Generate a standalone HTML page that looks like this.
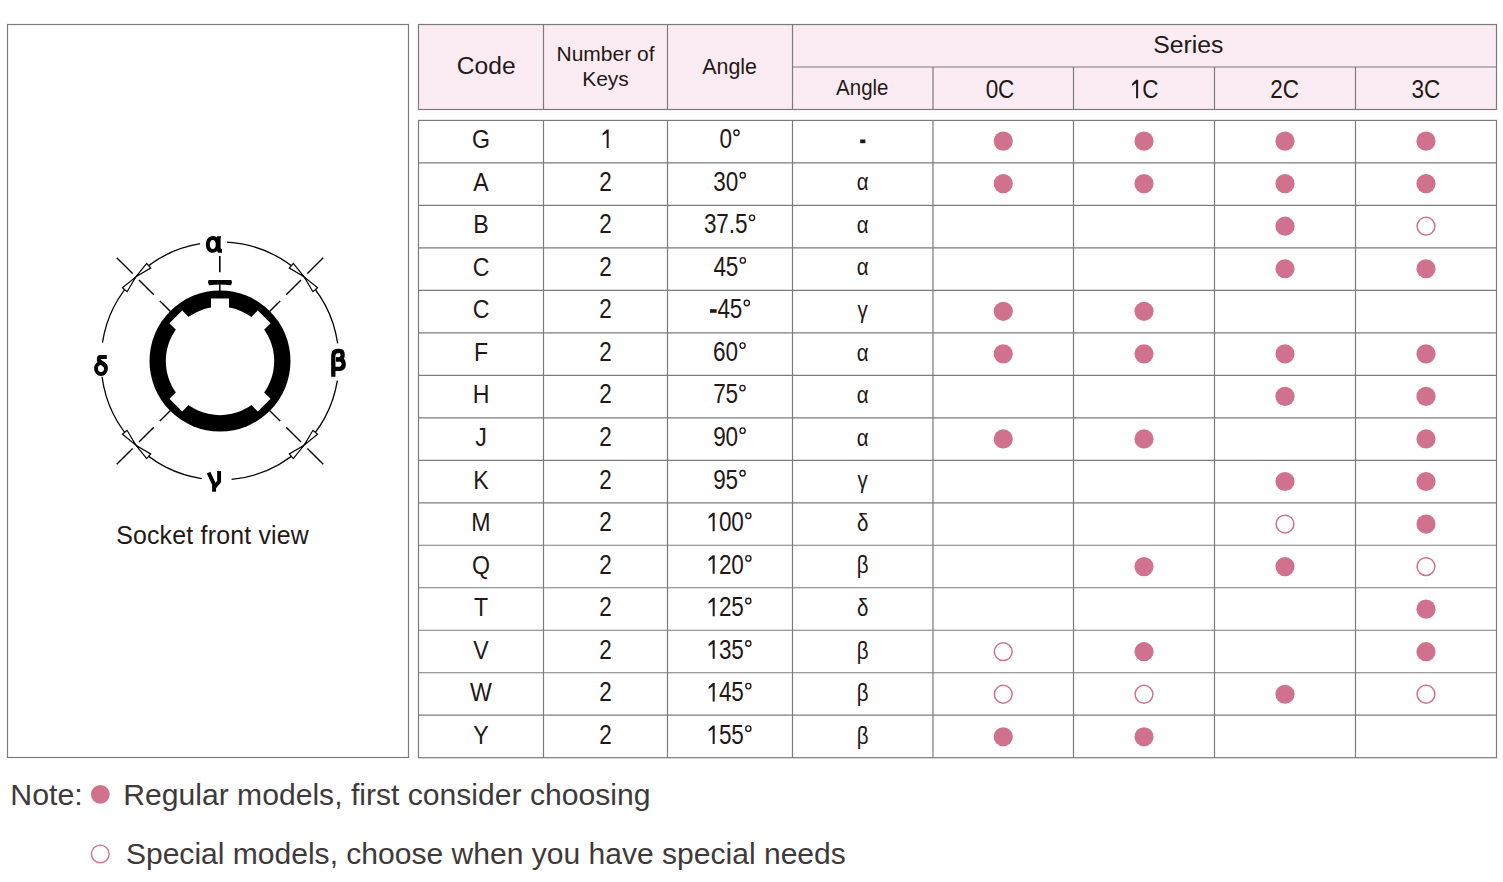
<!DOCTYPE html>
<html><head><meta charset="utf-8"><style>
html,body{margin:0;padding:0;background:#fff;width:1503px;height:882px;overflow:hidden}
svg{position:absolute;left:0;top:0;display:block}
text{font-family:"Liberation Sans",sans-serif}
</style></head><body>
<svg width="1503" height="882" viewBox="0 0 1503 882">
<rect x="7.5" y="24.5" width="401" height="733" fill="none" stroke="#7b7b7b" stroke-width="1.2"/>
<rect x="418.5" y="24.5" width="1078.0" height="85.0" fill="#fbebf2" stroke="#7b7b7b" stroke-width="1.2"/>
<line x1="543.5" y1="24.5" x2="543.5" y2="109.5" stroke="#7b7b7b" stroke-width="1.2"/>
<line x1="667.5" y1="24.5" x2="667.5" y2="109.5" stroke="#7b7b7b" stroke-width="1.2"/>
<line x1="792.5" y1="24.5" x2="792.5" y2="109.5" stroke="#7b7b7b" stroke-width="1.2"/>
<line x1="933" y1="67" x2="933" y2="109.5" stroke="#7b7b7b" stroke-width="1.2"/>
<line x1="1073.5" y1="67" x2="1073.5" y2="109.5" stroke="#7b7b7b" stroke-width="1.2"/>
<line x1="1214.5" y1="67" x2="1214.5" y2="109.5" stroke="#7b7b7b" stroke-width="1.2"/>
<line x1="1355.5" y1="67" x2="1355.5" y2="109.5" stroke="#7b7b7b" stroke-width="1.2"/>
<line x1="792.5" y1="67" x2="1496.5" y2="67" stroke="#7b7b7b" stroke-width="1.2"/>
<rect x="418.5" y="120.4" width="1078.0" height="637.3000000000001" fill="#fff" stroke="#7b7b7b" stroke-width="1.2"/>
<line x1="543.5" y1="120.4" x2="543.5" y2="757.7" stroke="#7b7b7b" stroke-width="1.2"/>
<line x1="667.5" y1="120.4" x2="667.5" y2="757.7" stroke="#7b7b7b" stroke-width="1.2"/>
<line x1="792.5" y1="120.4" x2="792.5" y2="757.7" stroke="#7b7b7b" stroke-width="1.2"/>
<line x1="933" y1="120.4" x2="933" y2="757.7" stroke="#7b7b7b" stroke-width="1.2"/>
<line x1="1073.5" y1="120.4" x2="1073.5" y2="757.7" stroke="#7b7b7b" stroke-width="1.2"/>
<line x1="1214.5" y1="120.4" x2="1214.5" y2="757.7" stroke="#7b7b7b" stroke-width="1.2"/>
<line x1="1355.5" y1="120.4" x2="1355.5" y2="757.7" stroke="#7b7b7b" stroke-width="1.2"/>
<line x1="418.5" y1="162.89" x2="1496.5" y2="162.89" stroke="#7b7b7b" stroke-width="1.2"/>
<line x1="418.5" y1="205.37" x2="1496.5" y2="205.37" stroke="#7b7b7b" stroke-width="1.2"/>
<line x1="418.5" y1="247.86" x2="1496.5" y2="247.86" stroke="#7b7b7b" stroke-width="1.2"/>
<line x1="418.5" y1="290.35" x2="1496.5" y2="290.35" stroke="#7b7b7b" stroke-width="1.2"/>
<line x1="418.5" y1="332.83" x2="1496.5" y2="332.83" stroke="#7b7b7b" stroke-width="1.2"/>
<line x1="418.5" y1="375.32" x2="1496.5" y2="375.32" stroke="#7b7b7b" stroke-width="1.2"/>
<line x1="418.5" y1="417.81" x2="1496.5" y2="417.81" stroke="#7b7b7b" stroke-width="1.2"/>
<line x1="418.5" y1="460.29" x2="1496.5" y2="460.29" stroke="#7b7b7b" stroke-width="1.2"/>
<line x1="418.5" y1="502.78" x2="1496.5" y2="502.78" stroke="#7b7b7b" stroke-width="1.2"/>
<line x1="418.5" y1="545.27" x2="1496.5" y2="545.27" stroke="#7b7b7b" stroke-width="1.2"/>
<line x1="418.5" y1="587.75" x2="1496.5" y2="587.75" stroke="#7b7b7b" stroke-width="1.2"/>
<line x1="418.5" y1="630.24" x2="1496.5" y2="630.24" stroke="#7b7b7b" stroke-width="1.2"/>
<line x1="418.5" y1="672.73" x2="1496.5" y2="672.73" stroke="#7b7b7b" stroke-width="1.2"/>
<line x1="418.5" y1="715.21" x2="1496.5" y2="715.21" stroke="#7b7b7b" stroke-width="1.2"/>
<circle cx="1003.25" cy="141.10" r="9.6" fill="#d0718d"/>
<circle cx="1144.00" cy="141.10" r="9.6" fill="#d0718d"/>
<circle cx="1285.00" cy="141.10" r="9.6" fill="#d0718d"/>
<circle cx="1426.00" cy="141.10" r="9.6" fill="#d0718d"/>
<circle cx="1003.25" cy="183.65" r="9.6" fill="#d0718d"/>
<circle cx="1144.00" cy="183.65" r="9.6" fill="#d0718d"/>
<circle cx="1285.00" cy="183.65" r="9.6" fill="#d0718d"/>
<circle cx="1426.00" cy="183.65" r="9.6" fill="#d0718d"/>
<circle cx="1285.00" cy="226.20" r="9.6" fill="#d0718d"/>
<circle cx="1426.00" cy="226.20" r="8.9" fill="none" stroke="#d0718d" stroke-width="1.5"/>
<circle cx="1285.00" cy="268.75" r="9.6" fill="#d0718d"/>
<circle cx="1426.00" cy="268.75" r="9.6" fill="#d0718d"/>
<circle cx="1003.25" cy="311.30" r="9.6" fill="#d0718d"/>
<circle cx="1144.00" cy="311.30" r="9.6" fill="#d0718d"/>
<circle cx="1003.25" cy="353.85" r="9.6" fill="#d0718d"/>
<circle cx="1144.00" cy="353.85" r="9.6" fill="#d0718d"/>
<circle cx="1285.00" cy="353.85" r="9.6" fill="#d0718d"/>
<circle cx="1426.00" cy="353.85" r="9.6" fill="#d0718d"/>
<circle cx="1285.00" cy="396.40" r="9.6" fill="#d0718d"/>
<circle cx="1426.00" cy="396.40" r="9.6" fill="#d0718d"/>
<circle cx="1003.25" cy="438.95" r="9.6" fill="#d0718d"/>
<circle cx="1144.00" cy="438.95" r="9.6" fill="#d0718d"/>
<circle cx="1426.00" cy="438.95" r="9.6" fill="#d0718d"/>
<circle cx="1285.00" cy="481.50" r="9.6" fill="#d0718d"/>
<circle cx="1426.00" cy="481.50" r="9.6" fill="#d0718d"/>
<circle cx="1285.00" cy="524.05" r="8.9" fill="none" stroke="#d0718d" stroke-width="1.5"/>
<circle cx="1426.00" cy="524.05" r="9.6" fill="#d0718d"/>
<circle cx="1144.00" cy="566.60" r="9.6" fill="#d0718d"/>
<circle cx="1285.00" cy="566.60" r="9.6" fill="#d0718d"/>
<circle cx="1426.00" cy="566.60" r="8.9" fill="none" stroke="#d0718d" stroke-width="1.5"/>
<circle cx="1426.00" cy="609.15" r="9.6" fill="#d0718d"/>
<circle cx="1003.25" cy="651.70" r="8.9" fill="none" stroke="#d0718d" stroke-width="1.5"/>
<circle cx="1144.00" cy="651.70" r="9.6" fill="#d0718d"/>
<circle cx="1426.00" cy="651.70" r="9.6" fill="#d0718d"/>
<circle cx="1003.25" cy="694.25" r="8.9" fill="none" stroke="#d0718d" stroke-width="1.5"/>
<circle cx="1144.00" cy="694.25" r="8.9" fill="none" stroke="#d0718d" stroke-width="1.5"/>
<circle cx="1285.00" cy="694.25" r="9.6" fill="#d0718d"/>
<circle cx="1426.00" cy="694.25" r="8.9" fill="none" stroke="#d0718d" stroke-width="1.5"/>
<circle cx="1003.25" cy="736.80" r="9.6" fill="#d0718d"/>
<circle cx="1144.00" cy="736.80" r="9.6" fill="#d0718d"/>
<circle cx="100.3" cy="794.3" r="9.4" fill="#d0718d"/>
<circle cx="100.3" cy="854" r="8.9" fill="none" stroke="#d0718d" stroke-width="1.4"/>
<circle cx="220" cy="361" r="70.5" fill="#000"/>
<circle cx="220" cy="361" r="54.2" fill="#fff"/>
<rect x="-9" y="-62.5" width="18" height="62.5" fill="#fff" transform="translate(220 361) rotate(0)"/>
<rect x="-9" y="-62.5" width="18" height="62.5" fill="#fff" transform="translate(220 361) rotate(45)"/>
<rect x="-9" y="-62.5" width="18" height="62.5" fill="#fff" transform="translate(220 361) rotate(-45)"/>
<rect x="-9" y="-62.5" width="18" height="62.5" fill="#fff" transform="translate(220 361) rotate(135)"/>
<rect x="-9" y="-62.5" width="18" height="62.5" fill="#fff" transform="translate(220 361) rotate(-135)"/>
<path d="M208.8 279.9 L231.2 279.9 Q231.9 280.2 231.9 282.3 Q231.9 285.2 230.6 285.3 Q220 283.6 209.4 285.3 Q208.1 285.2 208.1 282.3 Q208.1 280.2 208.8 279.9 Z" fill="#000"/>
<line x1="219.8" y1="283" x2="219.8" y2="292" stroke="#000" stroke-width="1.5"/>
<path d="M227.06 242.21 A119 119 0 0 1 337.69 343.41" stroke="#000" stroke-width="1.3" fill="none"/>
<path d="M337.37 380.64 A119 119 0 0 1 231.61 479.43" stroke="#000" stroke-width="1.3" fill="none"/>
<path d="M201.79 478.60 A119 119 0 0 1 102.05 376.74" stroke="#000" stroke-width="1.3" fill="none"/>
<path d="M102.43 342.59 A119 119 0 0 1 200.15 243.67" stroke="#000" stroke-width="1.3" fill="none"/>
<line x1="268.79" y1="312.21" x2="280.10" y2="300.90" stroke="#000" stroke-width="1.4"/>
<line x1="286.19" y1="294.81" x2="301.03" y2="279.97" stroke="#000" stroke-width="1.4"/>
<line x1="307.40" y1="273.60" x2="323.24" y2="257.76" stroke="#000" stroke-width="1.4"/>
<line x1="268.79" y1="409.79" x2="280.10" y2="421.10" stroke="#000" stroke-width="1.4"/>
<line x1="286.19" y1="427.19" x2="301.03" y2="442.03" stroke="#000" stroke-width="1.4"/>
<line x1="307.40" y1="448.40" x2="323.24" y2="464.24" stroke="#000" stroke-width="1.4"/>
<line x1="171.21" y1="409.79" x2="159.90" y2="421.10" stroke="#000" stroke-width="1.4"/>
<line x1="153.81" y1="427.19" x2="138.97" y2="442.03" stroke="#000" stroke-width="1.4"/>
<line x1="132.60" y1="448.40" x2="116.76" y2="464.24" stroke="#000" stroke-width="1.4"/>
<line x1="171.21" y1="312.21" x2="159.90" y2="300.90" stroke="#000" stroke-width="1.4"/>
<line x1="153.81" y1="294.81" x2="138.97" y2="279.97" stroke="#000" stroke-width="1.4"/>
<line x1="132.60" y1="273.60" x2="116.76" y2="257.76" stroke="#000" stroke-width="1.4"/>
<line x1="219.8" y1="256" x2="219.8" y2="272.3" stroke="#000" stroke-width="1.6"/>
<path d="M304.15 276.85 L312.96 291.69 L317.57 287.69 Z" fill="#fff" stroke="#000" stroke-width="1.2" stroke-linejoin="miter"/>
<path d="M304.15 276.85 L293.31 263.43 L289.31 268.04 Z" fill="#fff" stroke="#000" stroke-width="1.2" stroke-linejoin="miter"/>
<path d="M304.15 445.15 L289.31 453.96 L293.31 458.57 Z" fill="#fff" stroke="#000" stroke-width="1.2" stroke-linejoin="miter"/>
<path d="M304.15 445.15 L317.57 434.31 L312.96 430.31 Z" fill="#fff" stroke="#000" stroke-width="1.2" stroke-linejoin="miter"/>
<path d="M135.85 445.15 L127.04 430.31 L122.43 434.31 Z" fill="#fff" stroke="#000" stroke-width="1.2" stroke-linejoin="miter"/>
<path d="M135.85 445.15 L146.69 458.57 L150.69 453.96 Z" fill="#fff" stroke="#000" stroke-width="1.2" stroke-linejoin="miter"/>
<path d="M135.85 276.85 L150.69 268.04 L146.69 263.43 Z" fill="#fff" stroke="#000" stroke-width="1.2" stroke-linejoin="miter"/>
<path d="M135.85 276.85 L122.43 287.69 L127.04 291.69 Z" fill="#fff" stroke="#000" stroke-width="1.2" stroke-linejoin="miter"/>
<text transform="translate(985.71 98.30) scale(0.85 1)" x="0" y="0" font-size="26.5" fill="#231815">0</text>
<text transform="translate(998.11 98.30) scale(0.85 1)" x="0" y="0" font-size="26.5" fill="#231815">C</text>
<path d="M1138.15 79.80 L1136.25 79.80 L1132.05 83.70 L1132.05 85.80 L1136.10 83.20 L1136.10 98.30 L1138.10 98.30 Z" fill="#231815"/>
<text transform="translate(1142.35 98.30) scale(0.85 1)" x="0" y="0" font-size="26.5" fill="#231815">C</text>
<text transform="translate(1270.28 98.30) scale(0.85 1)" x="0" y="0" font-size="26.5" fill="#231815">2</text>
<text transform="translate(1282.68 98.30) scale(0.85 1)" x="0" y="0" font-size="26.5" fill="#231815">C</text>
<text transform="translate(1411.52 98.30) scale(0.85 1)" x="0" y="0" font-size="26.5" fill="#231815">3</text>
<text transform="translate(1423.92 98.30) scale(0.85 1)" x="0" y="0" font-size="26.5" fill="#231815">C</text>
<text transform="translate(481.00 148.00) scale(0.89 1)" x="0" y="0" font-size="26.0" fill="#231815" text-anchor="middle">G</text>
<path d="M608.70 129.50 L606.80 129.50 L602.60 133.40 L602.60 135.50 L606.65 132.90 L606.65 148.00 L608.65 148.00 Z" fill="#231815"/>
<text transform="translate(719.46 148.00) scale(0.835 1)" x="0" y="0" font-size="27.0" fill="#231815">0</text>
<ellipse cx="736.51" cy="132.70" rx="2.6" ry="2.75" fill="none" stroke="#231815" stroke-width="1.35"/>
<rect x="860.15" y="139.50" width="5.2" height="3.7" fill="#231815"/>
<text transform="translate(481.00 190.57) scale(0.89 1)" x="0" y="0" font-size="26.0" fill="#231815" text-anchor="middle">A</text>
<text transform="translate(599.33 190.57) scale(0.835 1)" x="0" y="0" font-size="27.0" fill="#231815">2</text>
<text transform="translate(713.27 190.57) scale(0.835 1)" x="0" y="0" font-size="27.0" fill="#231815">3</text>
<text transform="translate(725.67 190.57) scale(0.835 1)" x="0" y="0" font-size="27.0" fill="#231815">0</text>
<ellipse cx="742.72" cy="175.27" rx="2.6" ry="2.75" fill="none" stroke="#231815" stroke-width="1.35"/>
<text transform="translate(481.00 233.14) scale(0.89 1)" x="0" y="0" font-size="26.0" fill="#231815" text-anchor="middle">B</text>
<text transform="translate(599.33 233.14) scale(0.835 1)" x="0" y="0" font-size="27.0" fill="#231815">2</text>
<text transform="translate(703.97 233.14) scale(0.835 1)" x="0" y="0" font-size="27.0" fill="#231815">3</text>
<text transform="translate(716.37 233.14) scale(0.835 1)" x="0" y="0" font-size="27.0" fill="#231815">7</text>
<text transform="translate(728.77 233.14) scale(0.835 1)" x="0" y="0" font-size="27.0" fill="#231815">.</text>
<text transform="translate(735.04 233.14) scale(0.835 1)" x="0" y="0" font-size="27.0" fill="#231815">5</text>
<ellipse cx="752.02" cy="217.84" rx="2.6" ry="2.75" fill="none" stroke="#231815" stroke-width="1.35"/>
<text transform="translate(481.00 275.71) scale(0.89 1)" x="0" y="0" font-size="26.0" fill="#231815" text-anchor="middle">C</text>
<text transform="translate(599.33 275.71) scale(0.835 1)" x="0" y="0" font-size="27.0" fill="#231815">2</text>
<text transform="translate(713.47 275.71) scale(0.835 1)" x="0" y="0" font-size="27.0" fill="#231815">4</text>
<text transform="translate(725.87 275.71) scale(0.835 1)" x="0" y="0" font-size="27.0" fill="#231815">5</text>
<ellipse cx="742.86" cy="260.41" rx="2.6" ry="2.75" fill="none" stroke="#231815" stroke-width="1.35"/>
<text transform="translate(481.00 318.28) scale(0.89 1)" x="0" y="0" font-size="26.0" fill="#231815" text-anchor="middle">C</text>
<text transform="translate(599.33 318.28) scale(0.835 1)" x="0" y="0" font-size="27.0" fill="#231815">2</text>
<rect x="710.03" y="309.18" width="6.6" height="3.6" fill="#231815"/>
<text transform="translate(717.43 318.28) scale(0.835 1)" x="0" y="0" font-size="27.0" fill="#231815">4</text>
<text transform="translate(729.83 318.28) scale(0.835 1)" x="0" y="0" font-size="27.0" fill="#231815">5</text>
<ellipse cx="746.82" cy="302.98" rx="2.6" ry="2.75" fill="none" stroke="#231815" stroke-width="1.35"/>
<text transform="translate(481.00 360.85) scale(0.89 1)" x="0" y="0" font-size="26.0" fill="#231815" text-anchor="middle">F</text>
<text transform="translate(599.33 360.85) scale(0.835 1)" x="0" y="0" font-size="27.0" fill="#231815">2</text>
<text transform="translate(713.12 360.85) scale(0.835 1)" x="0" y="0" font-size="27.0" fill="#231815">6</text>
<text transform="translate(725.52 360.85) scale(0.835 1)" x="0" y="0" font-size="27.0" fill="#231815">0</text>
<ellipse cx="742.58" cy="345.55" rx="2.6" ry="2.75" fill="none" stroke="#231815" stroke-width="1.35"/>
<text transform="translate(481.00 403.42) scale(0.89 1)" x="0" y="0" font-size="26.0" fill="#231815" text-anchor="middle">H</text>
<text transform="translate(599.33 403.42) scale(0.835 1)" x="0" y="0" font-size="27.0" fill="#231815">2</text>
<text transform="translate(713.16 403.42) scale(0.835 1)" x="0" y="0" font-size="27.0" fill="#231815">7</text>
<text transform="translate(725.56 403.42) scale(0.835 1)" x="0" y="0" font-size="27.0" fill="#231815">5</text>
<ellipse cx="742.54" cy="388.12" rx="2.6" ry="2.75" fill="none" stroke="#231815" stroke-width="1.35"/>
<text transform="translate(481.00 445.99) scale(0.89 1)" x="0" y="0" font-size="26.0" fill="#231815" text-anchor="middle">J</text>
<text transform="translate(599.33 445.99) scale(0.835 1)" x="0" y="0" font-size="27.0" fill="#231815">2</text>
<text transform="translate(713.17 445.99) scale(0.835 1)" x="0" y="0" font-size="27.0" fill="#231815">9</text>
<text transform="translate(725.57 445.99) scale(0.835 1)" x="0" y="0" font-size="27.0" fill="#231815">0</text>
<ellipse cx="742.62" cy="430.69" rx="2.6" ry="2.75" fill="none" stroke="#231815" stroke-width="1.35"/>
<text transform="translate(481.00 488.56) scale(0.89 1)" x="0" y="0" font-size="26.0" fill="#231815" text-anchor="middle">K</text>
<text transform="translate(599.33 488.56) scale(0.835 1)" x="0" y="0" font-size="27.0" fill="#231815">2</text>
<text transform="translate(713.20 488.56) scale(0.835 1)" x="0" y="0" font-size="27.0" fill="#231815">9</text>
<text transform="translate(725.60 488.56) scale(0.835 1)" x="0" y="0" font-size="27.0" fill="#231815">5</text>
<ellipse cx="742.59" cy="473.26" rx="2.6" ry="2.75" fill="none" stroke="#231815" stroke-width="1.35"/>
<text transform="translate(481.00 531.13) scale(0.89 1)" x="0" y="0" font-size="26.0" fill="#231815" text-anchor="middle">M</text>
<text transform="translate(599.33 531.13) scale(0.835 1)" x="0" y="0" font-size="27.0" fill="#231815">2</text>
<path d="M714.70 512.63 L712.80 512.63 L708.60 516.53 L708.60 518.63 L712.65 516.03 L712.65 531.13 L714.65 531.13 Z" fill="#231815"/>
<text transform="translate(718.90 531.13) scale(0.835 1)" x="0" y="0" font-size="27.0" fill="#231815">0</text>
<text transform="translate(731.30 531.13) scale(0.835 1)" x="0" y="0" font-size="27.0" fill="#231815">0</text>
<ellipse cx="748.35" cy="515.83" rx="2.6" ry="2.75" fill="none" stroke="#231815" stroke-width="1.35"/>
<text transform="translate(481.00 573.70) scale(0.89 1)" x="0" y="0" font-size="26.0" fill="#231815" text-anchor="middle">Q</text>
<text transform="translate(599.33 573.70) scale(0.835 1)" x="0" y="0" font-size="27.0" fill="#231815">2</text>
<path d="M714.70 555.20 L712.80 555.20 L708.60 559.10 L708.60 561.20 L712.65 558.60 L712.65 573.70 L714.65 573.70 Z" fill="#231815"/>
<text transform="translate(718.90 573.70) scale(0.835 1)" x="0" y="0" font-size="27.0" fill="#231815">2</text>
<text transform="translate(731.30 573.70) scale(0.835 1)" x="0" y="0" font-size="27.0" fill="#231815">0</text>
<ellipse cx="748.35" cy="558.40" rx="2.6" ry="2.75" fill="none" stroke="#231815" stroke-width="1.35"/>
<text transform="translate(481.00 616.27) scale(0.89 1)" x="0" y="0" font-size="26.0" fill="#231815" text-anchor="middle">T</text>
<text transform="translate(599.33 616.27) scale(0.835 1)" x="0" y="0" font-size="27.0" fill="#231815">2</text>
<path d="M714.73 597.77 L712.83 597.77 L708.63 601.67 L708.63 603.77 L712.68 601.17 L712.68 616.27 L714.68 616.27 Z" fill="#231815"/>
<text transform="translate(718.93 616.27) scale(0.835 1)" x="0" y="0" font-size="27.0" fill="#231815">2</text>
<text transform="translate(731.33 616.27) scale(0.835 1)" x="0" y="0" font-size="27.0" fill="#231815">5</text>
<ellipse cx="748.32" cy="600.97" rx="2.6" ry="2.75" fill="none" stroke="#231815" stroke-width="1.35"/>
<text transform="translate(481.00 658.84) scale(0.89 1)" x="0" y="0" font-size="26.0" fill="#231815" text-anchor="middle">V</text>
<text transform="translate(599.33 658.84) scale(0.835 1)" x="0" y="0" font-size="27.0" fill="#231815">2</text>
<path d="M714.73 640.34 L712.83 640.34 L708.63 644.24 L708.63 646.34 L712.68 643.74 L712.68 658.84 L714.68 658.84 Z" fill="#231815"/>
<text transform="translate(718.93 658.84) scale(0.835 1)" x="0" y="0" font-size="27.0" fill="#231815">3</text>
<text transform="translate(731.33 658.84) scale(0.835 1)" x="0" y="0" font-size="27.0" fill="#231815">5</text>
<ellipse cx="748.32" cy="643.54" rx="2.6" ry="2.75" fill="none" stroke="#231815" stroke-width="1.35"/>
<text transform="translate(481.00 701.41) scale(0.89 1)" x="0" y="0" font-size="26.0" fill="#231815" text-anchor="middle">W</text>
<text transform="translate(599.33 701.41) scale(0.835 1)" x="0" y="0" font-size="27.0" fill="#231815">2</text>
<path d="M714.73 682.91 L712.83 682.91 L708.63 686.81 L708.63 688.91 L712.68 686.31 L712.68 701.41 L714.68 701.41 Z" fill="#231815"/>
<text transform="translate(718.93 701.41) scale(0.835 1)" x="0" y="0" font-size="27.0" fill="#231815">4</text>
<text transform="translate(731.33 701.41) scale(0.835 1)" x="0" y="0" font-size="27.0" fill="#231815">5</text>
<ellipse cx="748.32" cy="686.11" rx="2.6" ry="2.75" fill="none" stroke="#231815" stroke-width="1.35"/>
<text transform="translate(481.00 743.98) scale(0.89 1)" x="0" y="0" font-size="26.0" fill="#231815" text-anchor="middle">Y</text>
<text transform="translate(599.33 743.98) scale(0.835 1)" x="0" y="0" font-size="27.0" fill="#231815">2</text>
<path d="M714.73 725.48 L712.83 725.48 L708.63 729.38 L708.63 731.48 L712.68 728.88 L712.68 743.98 L714.68 743.98 Z" fill="#231815"/>
<text transform="translate(718.93 743.98) scale(0.835 1)" x="0" y="0" font-size="27.0" fill="#231815">5</text>
<text transform="translate(731.33 743.98) scale(0.835 1)" x="0" y="0" font-size="27.0" fill="#231815">5</text>
<ellipse cx="748.32" cy="728.68" rx="2.6" ry="2.75" fill="none" stroke="#231815" stroke-width="1.35"/>
<path fill-rule="evenodd" fill="#000" d="M213 235.9 C208.4 235.9 205.9 239.6 205.9 244.4 C205.9 249.4 208.4 252.8 212.8 252.8 C214.8 252.8 216.3 252 217.2 250.8 L217.9 252.8 L222 252.8 L222 249.2 L220.6 248.3 L220.6 238.3 L221.2 236.3 L217.1 236.3 L216.8 237.4 C215.8 236.4 214.5 235.9 213 235.9 Z M212.8 239.9 C214.6 239.9 215.8 241.8 215.8 244.4 C215.8 247 214.6 248.9 212.8 248.9 C211 248.9 209.8 247 209.8 244.4 C209.8 241.8 211 239.9 212.8 239.9 Z"/>
<g fill="none" stroke="#000" stroke-width="3.9"><path d="M106.8 357 L100.5 357 Q98.8 357 98.8 359 L98.8 360.3 L105.2 366"/><ellipse cx="101" cy="368.5" rx="4.95" ry="5.5"/></g>
<g fill="none" stroke="#000" stroke-width="4.3"><path d="M333.3 376.8 L333.3 355.5 Q333.3 351 337.8 351 L339.6 351 Q342.6 351 342.6 355.2 Q342.6 359.3 338.6 359.3 L336 359.3"/><path d="M336 359.3 L339.4 359.3 Q343.7 359.3 343.7 364.2 Q343.7 368.8 339.4 368.8 L333.3 368.8"/></g>
<g fill="none" stroke="#000" stroke-width="3.9"><path d="M208.6 472.6 L214.1 484.5 L214.1 491.7"/><path d="M219.1 471.1 L219.1 481.5 L214.1 487.5"/></g>
<text x="486.2" y="73.9" font-size="24.6" fill="#231815" text-anchor="middle" font-weight="normal" >Code</text>
<text x="605.5" y="60.8" font-size="21" fill="#231815" text-anchor="middle" font-weight="normal" >Number of</text>
<text x="605.5" y="85.5" font-size="21" fill="#231815" text-anchor="middle" font-weight="normal" >Keys</text>
<text x="729.6" y="73.5" font-size="21.4" fill="#231815" text-anchor="middle" font-weight="normal" >Angle</text>
<text x="1188.3" y="53" font-size="24.8" fill="#231815" text-anchor="middle" font-weight="normal" >Series</text>
<text x="862.3" y="94.7" font-size="22.5" fill="#231815" text-anchor="middle" font-weight="normal" transform="translate(862.3 0) scale(0.91 1) translate(-862.3 0)">Angle</text>
<text x="862.75" y="190.27" font-size="24.5" fill="#231815" text-anchor="middle" font-weight="normal" transform="translate(862.75 0) scale(0.84 1) translate(-862.75 0)">α</text>
<text x="862.75" y="232.84" font-size="24.5" fill="#231815" text-anchor="middle" font-weight="normal" transform="translate(862.75 0) scale(0.84 1) translate(-862.75 0)">α</text>
<text x="862.75" y="275.41" font-size="24.5" fill="#231815" text-anchor="middle" font-weight="normal" transform="translate(862.75 0) scale(0.84 1) translate(-862.75 0)">α</text>
<text x="862.75" y="317.98" font-size="24.5" fill="#231815" text-anchor="middle" font-weight="normal" transform="translate(862.75 0) scale(0.84 1) translate(-862.75 0)">γ</text>
<text x="862.75" y="360.55" font-size="24.5" fill="#231815" text-anchor="middle" font-weight="normal" transform="translate(862.75 0) scale(0.84 1) translate(-862.75 0)">α</text>
<text x="862.75" y="403.12" font-size="24.5" fill="#231815" text-anchor="middle" font-weight="normal" transform="translate(862.75 0) scale(0.84 1) translate(-862.75 0)">α</text>
<text x="862.75" y="445.69" font-size="24.5" fill="#231815" text-anchor="middle" font-weight="normal" transform="translate(862.75 0) scale(0.84 1) translate(-862.75 0)">α</text>
<text x="862.75" y="488.26" font-size="24.5" fill="#231815" text-anchor="middle" font-weight="normal" transform="translate(862.75 0) scale(0.84 1) translate(-862.75 0)">γ</text>
<text x="862.75" y="530.83" font-size="24.5" fill="#231815" text-anchor="middle" font-weight="normal" transform="translate(862.75 0) scale(0.84 1) translate(-862.75 0)">δ</text>
<text x="862.75" y="573.40" font-size="24.5" fill="#231815" text-anchor="middle" font-weight="normal" transform="translate(862.75 0) scale(0.84 1) translate(-862.75 0)">β</text>
<text x="862.75" y="615.97" font-size="24.5" fill="#231815" text-anchor="middle" font-weight="normal" transform="translate(862.75 0) scale(0.84 1) translate(-862.75 0)">δ</text>
<text x="862.75" y="658.54" font-size="24.5" fill="#231815" text-anchor="middle" font-weight="normal" transform="translate(862.75 0) scale(0.84 1) translate(-862.75 0)">β</text>
<text x="862.75" y="701.11" font-size="24.5" fill="#231815" text-anchor="middle" font-weight="normal" transform="translate(862.75 0) scale(0.84 1) translate(-862.75 0)">β</text>
<text x="862.75" y="743.68" font-size="24.5" fill="#231815" text-anchor="middle" font-weight="normal" transform="translate(862.75 0) scale(0.84 1) translate(-862.75 0)">β</text>
<text x="212.6" y="543.7" font-size="24.9" fill="#231815" text-anchor="middle" font-weight="normal" letter-spacing="0.2">Socket front view</text>
<text x="10.3" y="805" font-size="30.3" fill="#3e3a39" text-anchor="start" font-weight="normal" >Note:</text>
<text x="123.3" y="805" font-size="30.12" fill="#3e3a39" text-anchor="start" font-weight="normal" >Regular models, first consider choosing</text>
<text x="125.9" y="864.4" font-size="30.05" fill="#3e3a39" text-anchor="start" font-weight="normal" >Special models, choose when you have special needs</text>
</svg>
</body></html>
